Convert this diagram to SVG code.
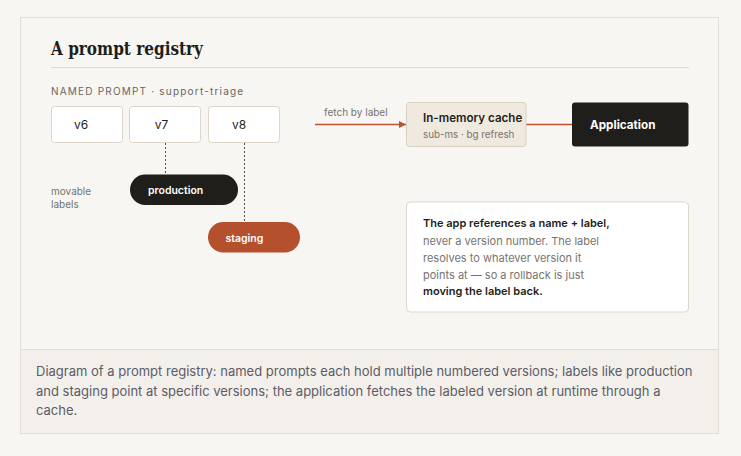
<svg xmlns="http://www.w3.org/2000/svg" width="741" height="456" viewBox="0 0 741 456">
<defs>
<style>
.sans{font-family:Inter,"Liberation Sans",sans-serif}
.ver{fill:#fff;stroke:#ddd5c9;stroke-width:1}
.vt{font-size:12px;fill:#1f1e1b;text-anchor:middle}
.small{font-size:10px;fill:#77736d}
.dash{stroke:#55524d;stroke-width:1;stroke-dasharray:2 2;fill:none}
.edge{stroke:#c0512e;stroke-width:1.5;fill:none}
.pill{font-size:10.5px;font-weight:600;fill:#fff}
.note{font-size:11px}
.nb{fill:#1f1e1b;font-weight:600}
.nr{fill:#77736d}
.cap{font-size:13px;fill:#5c5c66}
</style>
<marker id="arr" markerWidth="8" markerHeight="8" refX="7" refY="4" orient="auto" markerUnits="userSpaceOnUse">
<path d="M0,0.5 L7,4 L0,7.5 Z" fill="#c0512e"/>
</marker>
</defs>
<rect width="741" height="456" fill="#f8f6f2"/>
<rect x="20.5" y="17.5" width="698" height="416" fill="#f8f6f2" stroke="#e2ddd5"/>
<rect x="20.5" y="349.5" width="698" height="84" fill="#f3f0eb" stroke="#e2ddd5"/>

<text x="51" y="55" font-family="'DejaVu Serif','Liberation Serif',serif" font-weight="bold" font-size="18" fill="#1f1e1b" textLength="152" lengthAdjust="spacingAndGlyphs">A prompt registry</text>
<line x1="51" y1="67.5" x2="689" y2="67.5" stroke="#e2d9cc"/>
<text class="sans" x="51" y="95" font-size="10" fill="#6b6660" letter-spacing="1.2">NAMED PROMPT · support-triage</text>

<g id="connectors">
<line class="dash" x1="165.5" y1="143" x2="165.5" y2="175"/>
<line class="dash" x1="244.5" y1="143" x2="244.5" y2="222"/>
<line class="edge" x1="315" y1="124.5" x2="406" y2="124.5" marker-end="url(#arr)"/>
<line class="edge" x1="526" y1="124.5" x2="572" y2="124.5"/>
<text class="sans small" x="324" y="116">fetch by label</text>
</g>

<g id="v6"><rect class="ver" x="51.5" y="106.5" width="71" height="36" rx="3"/><text class="sans vt" x="81" y="129">v6</text></g>
<g id="v7"><rect class="ver" x="129.5" y="106.5" width="71" height="36" rx="3"/><text class="sans vt" x="161.5" y="129">v7</text></g>
<g id="v8"><rect class="ver" x="208.5" y="106.5" width="71" height="36" rx="3"/><text class="sans vt" x="239" y="129">v8</text></g>

<g id="movable-labels"><text class="sans small" x="51" y="194.5">movable</text><text class="sans small" x="51" y="207.5">labels</text></g>

<g id="production"><rect x="130" y="174.5" width="108" height="30.5" rx="15.25" fill="#1f1e1b"/><text class="sans pill" x="148" y="193.8">production</text></g>
<g id="staging"><rect x="208" y="222" width="92" height="30.5" rx="15.25" fill="#b5502f"/><text class="sans pill" x="225.5" y="241.8">staging</text></g>

<g id="cache"><rect x="406.5" y="102.5" width="119.5" height="44" rx="3" fill="#efe9df" stroke="#d9d0c2"/>
<text class="sans" x="423" y="122" font-size="11.6" font-weight="600" fill="#1f1e1b">In-memory cache</text>
<text class="sans" x="423" y="138" font-size="9.8" fill="#77736d">sub-ms · bg refresh</text></g>

<g id="application"><rect x="572" y="102.5" width="116.5" height="44" rx="3" fill="#1f1e1b"/>
<text class="sans" x="590" y="129" font-size="11.7" font-weight="bold" fill="#fff">Application</text></g>

<g id="note"><rect x="406.5" y="202" width="282" height="110" rx="4" fill="#fff" stroke="#ddd6ca"/>
<text class="sans note nb" x="423" y="226.5" font-size="11.3">The app references a name + label,</text>
<text class="sans note nr" x="423" y="244.5">never a version number. The label</text>
<text class="sans note nr" x="423" y="261.5">resolves to whatever version it</text>
<text class="sans note nr" x="423" y="278.5">points at — so a rollback is just</text>
<text class="sans note nb" x="423" y="295" font-size="11.3">moving the label back.</text></g>

<g id="caption">
<text class="sans cap" x="36" y="376">Diagram of a prompt registry: named prompts each hold multiple numbered versions; labels like production</text>
<text class="sans cap" x="36" y="395.5">and staging point at specific versions; the application fetches the labeled version at runtime through a</text>
<text class="sans cap" x="36" y="415">cache.</text>
</g>
</svg>
